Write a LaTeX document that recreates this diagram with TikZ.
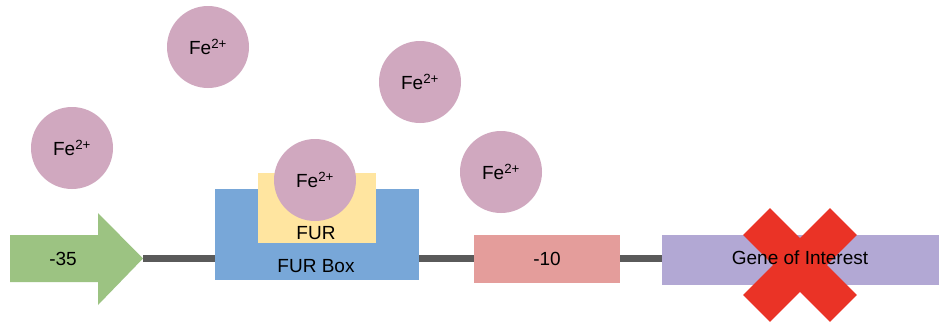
\documentclass[tikz,border=0pt]{standalone}
\usepackage{fontspec}
\setmainfont{Liberation Sans}
\definecolor{arrowgreen}{HTML}{9CC382}
\definecolor{furbox}{HTML}{78A7D8}
\definecolor{furyellow}{HTML}{FFE5A0}
\definecolor{tenpink}{HTML}{E49D9B}
\definecolor{genepurple}{HTML}{B2A8D4}
\definecolor{feion}{HTML}{D0A8BF}
\definecolor{crossred}{HTML}{EA3326}
\definecolor{dnagrey}{HTML}{5A5A5A}
\tikzset{
  lbl/.style={font=\fontsize{19}{22}\selectfont, text=black, inner sep=0pt},
  ion/.style={circle, fill=feion, minimum size=82pt, inner sep=0pt, font=\fontsize{19}{22}\selectfont},
  block/.style={rectangle, inner sep=0pt, anchor=north west},
  crossbar/.style={rectangle, fill=crossred, minimum width=123pt, minimum height=38pt, inner sep=0pt},
  dna/.style={draw=dnagrey, line width=7pt}
}
\newcommand{\fe}{Fe\textsuperscript{2+}}
\begin{document}
\begin{tikzpicture}[x=1pt,y=-1pt]
\useasboundingbox (0,0) rectangle (939,325);
\fill[white] (0,0) rectangle (939,325);
% blocks (drawn as nodes with explicit sizes)
\node[block, fill=genepurple, minimum width=277pt, minimum height=50pt] (gene) at (662,235) {};
\coordinate (tip) at (143,258.5);
\draw[dna] (tip) -- (gene.west |- tip);
% -35 promoter arrow
\fill[arrowgreen] (10,235) -- (98,235) -- (98,213) -- (tip) -- (98,305) -- (98,282) -- (10,282) -- cycle;
\node[lbl] (m35) at (63,259) {-35};
% FUR box
\node[block, fill=furbox, minimum width=204pt, minimum height=91pt] (furbox) at (215,189) {};
\node[lbl] (furboxlbl) at (316,266) {FUR Box};
\node[block, fill=furyellow, minimum width=118pt, minimum height=70pt] (fur) at (258,173) {};
\node[lbl] (furlbl) at (316,233) {FUR};
\node[ion] (fe0) at (315,180) {\fe};
% -10
\node[block, fill=tenpink, minimum width=146pt, minimum height=48pt] (m10box) at (474,235) {};
\node[lbl] (m10) at (547,259) {-10};
% red cross
\node[crossbar, rotate=45] (xa) at (800,265) {};
\node[crossbar, rotate=-45] (xb) at (800,265) {};
\node[lbl] (genelbl) at (800,258) {Gene of Interest};
% free ions
\node[ion] (fe1) at (208,47) {\fe};
\node[ion] (fe2) at (420,82) {\fe};
\node[ion] (fe3) at (72,148) {\fe};
\node[ion] (fe4) at (501,172) {\fe};
\end{tikzpicture}
\end{document}
